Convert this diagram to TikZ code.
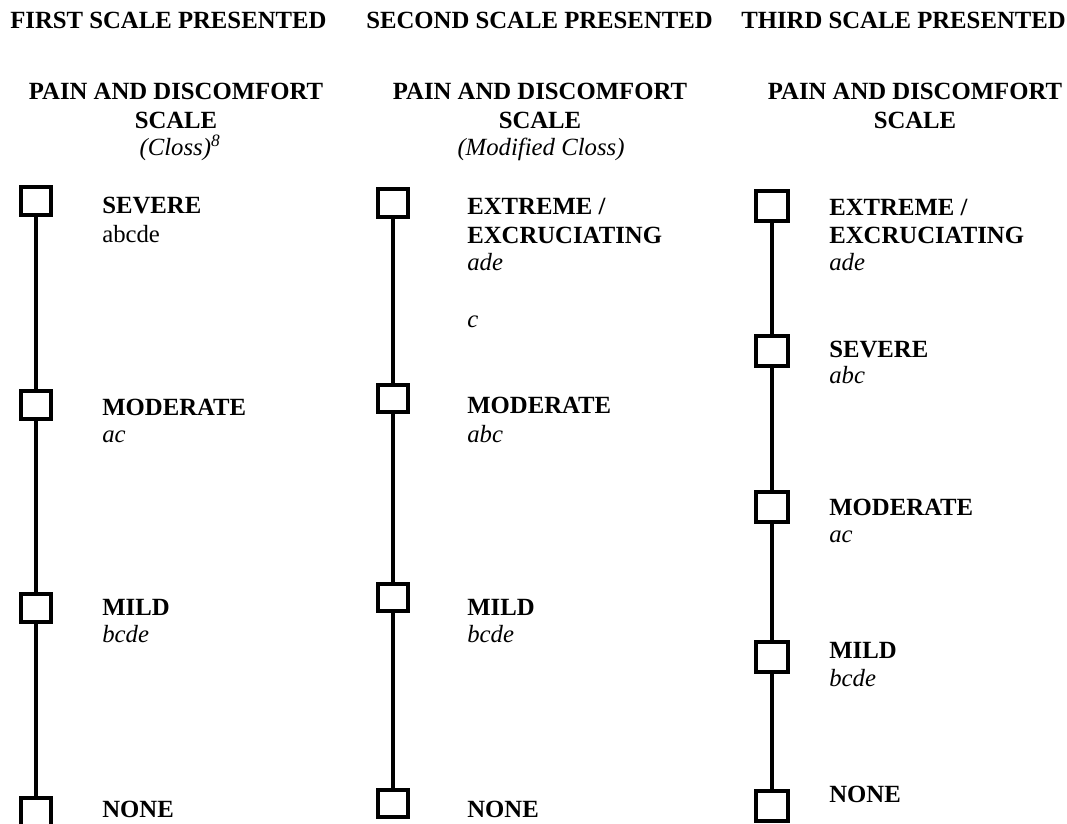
\documentclass[tikz,border=0pt]{standalone}
\usepackage{fontspec}
\setmainfont{Liberation Serif}

\begin{document}
\fontsize{17.6pt}{21pt}\selectfont
\begin{tikzpicture}[y=-1cm,
	box/.style={draw,line width=2.8pt,minimum width=.73cm,minimum height=.68cm,inner sep=0},
	bigbox/.style={box,minimum width=.82cm,minimum height=.77cm},
	rail/.style={line width=2.4pt},
	lvl/.style={anchor=base west,inner sep=0,font=\bfseries},
	grp/.style={anchor=base west,inner sep=0,font=\itshape},
	head/.style={anchor=base west,inner sep=0,font=\bfseries},
	title/.style={anchor=base,inner sep=0,font=\bfseries}]
	\useasboundingbox (0,0) rectangle (26.675,20.575);

	% column headings
	\node[head] (h1) at (.25,.7) {FIRST SCALE PRESENTED};
	\node[head] (h2) at (9.15,.7) {SECOND SCALE PRESENTED};
	\node[head] (h3) at (18.525,.7) {THIRD SCALE PRESENTED};

	\node[title] (t1) at (4.4,2.475) {PAIN AND DISCOMFORT};
	\node[title] (s1) at (4.4,3.2) {SCALE};
	\node[anchor=base,inner sep=0,font=\itshape] (c1) at (4.5,3.875) {(Closs)\textsuperscript{8}};
	\node[title] (t2) at (13.5,2.475) {PAIN AND DISCOMFORT};
	\node[title] (s2) at (13.5,3.2) {SCALE};
	\node[anchor=base,inner sep=0,font=\itshape] (c2) at (13.525,3.875) {(Modified Closs)};
	\node[title] (t3) at (22.875,2.475) {PAIN AND DISCOMFORT};
	\node[title] (s3) at (22.875,3.2) {SCALE};

	% first scale
	\node[box] (a1) at (.9,5.025) {};
	\node[box] (a2) at (.9,10.125) {};
	\node[box] (a3) at (.9,15.2) {};
	\node[box] (a4) at (.9,20.3) {};
	\draw[rail] (a1) -- (a2);
	\draw[rail] (a2) -- (a3);
	\draw[rail] (a3) -- (a4);

	\node[lvl] (a1l) at (2.55,5.325) {SEVERE};
	\node[anchor=base west,inner sep=0] (a1g) at (2.55,6.05) {abcde};
	\node[lvl] (a2l) at (2.55,10.375) {MODERATE};
	\node[grp] (a2g) at (2.55,11.05) {ac};
	\node[lvl] (a3l) at (2.55,15.375) {MILD};
	\node[grp] (a3g) at (2.55,16.05) {bcde};
	\node[lvl] (a4l) at (2.55,20.425) {NONE};

	% second scale
	\node[box] (b1) at (9.825,5.075) {};
	\node[box] (b2) at (9.825,9.9625) {};
	\node[box] (b3) at (9.825,14.9375) {};
	\node[box] (b4) at (9.825,20.0875) {};
	\draw[rail] (b1) -- (b2);
	\draw[rail] (b2) -- (b3);
	\draw[rail] (b3) -- (b4);

	\node[lvl] (b1l) at (11.675,5.35) {EXTREME /};
	\node[lvl] (b1m) at (11.675,6.075) {EXCRUCIATING};
	\node[grp] (b1g) at (11.675,6.75) {ade};
	\node[grp] (b1c) at (11.675,8.175) {c};
	\node[lvl] (b2l) at (11.675,10.325) {MODERATE};
	\node[grp] (b2g) at (11.675,11.05) {abc};
	\node[lvl] (b3l) at (11.675,15.375) {MILD};
	\node[grp] (b3g) at (11.675,16.05) {bcde};
	\node[lvl] (b4l) at (11.675,20.425) {NONE};

	% third scale
	\node[bigbox] (c1b) at (19.3,5.15) {};
	\node[bigbox] (c2b) at (19.3,8.775) {};
	\node[bigbox] (c3b) at (19.3,12.675) {};
	\node[bigbox] (c4b) at (19.3,16.425) {};
	\node[bigbox] (c5b) at (19.3,20.15) {};
	\draw[rail] (c1b) -- (c2b);
	\draw[rail] (c2b) -- (c3b);
	\draw[rail] (c3b) -- (c4b);
	\draw[rail] (c4b) -- (c5b);

	\node[lvl] (c1l) at (20.725,5.375) {EXTREME /};
	\node[lvl] (c1m) at (20.725,6.075) {EXCRUCIATING};
	\node[grp] (c1g) at (20.725,6.75) {ade};
	\node[lvl] (c2l) at (20.725,8.925) {SEVERE};
	\node[grp] (c2g) at (20.725,9.575) {abc};
	\node[lvl] (c3l) at (20.725,12.875) {MODERATE};
	\node[grp] (c3g) at (20.725,13.55) {ac};
	\node[lvl] (c4l) at (20.725,16.45) {MILD};
	\node[grp] (c4g) at (20.725,17.15) {bcde};
	\node[lvl] (c5l) at (20.725,20.05) {NONE};
\end{tikzpicture}
\end{document}
